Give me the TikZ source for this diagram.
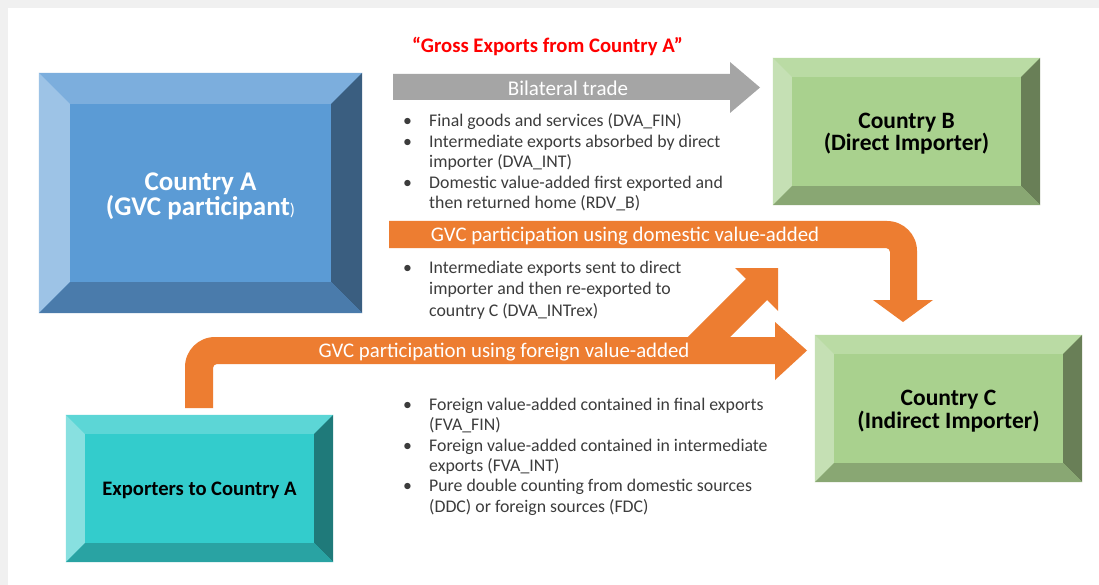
\documentclass[tikz,border=0pt]{standalone}
\usepackage{fontspec}
\setmainfont{Carlito}
\usetikzlibrary{calc}

\definecolor{pagegray}{HTML}{F0F0F0}
\definecolor{bodytext}{HTML}{3C3C3C}
\definecolor{arrowgray}{HTML}{A5A5A5}
\definecolor{arroworange}{HTML}{ED7D31}
\definecolor{titlered}{HTML}{FF0000}
% blue box (Country A)
\definecolor{aface}{HTML}{5B9BD5}
\definecolor{atop}{HTML}{7CAEDD}
\definecolor{aleft}{HTML}{9DC3E6}
\definecolor{aright}{HTML}{3A5E80}
\definecolor{abottom}{HTML}{4A7BAB}
% green boxes (Countries B and C)
\definecolor{gface}{HTML}{A9D18E}
\definecolor{gtop}{HTML}{BADBA4}
\definecolor{gleft}{HTML}{C5E0B4}
\definecolor{gright}{HTML}{697F57}
\definecolor{gbottom}{HTML}{89A773}
% teal box (exporters)
\definecolor{tface}{HTML}{33CCCC}
\definecolor{ttop}{HTML}{5CD6D6}
\definecolor{tleft}{HTML}{88E0E0}
\definecolor{tright}{HTML}{1F7A7A}
\definecolor{tbottom}{HTML}{29A3A3}

% four bevel faces around a rectangular node: name, width, top, left, right, bottom
\newcommand\bevelframe[6]{%
  \fill[#3] (#1.north west) -- (#1.north east) -- ($(#1.north east)+(-#2,#2)$) -- ($(#1.north west)+(#2,#2)$) -- cycle;
  \fill[#4] (#1.north west) -- ($(#1.north west)+(#2,#2)$) -- ($(#1.south west)+(#2,-#2)$) -- (#1.south west) -- cycle;
  \fill[#5] (#1.north east) -- (#1.south east) -- ($(#1.south east)+(-#2,-#2)$) -- ($(#1.north east)+(-#2,#2)$) -- cycle;
  \fill[#6] (#1.south west) -- (#1.south east) -- ($(#1.south east)+(-#2,-#2)$) -- ($(#1.south west)+(#2,-#2)$) -- cycle;
}

\tikzset{
  bevelbox/.style={rectangle, inner sep=0pt, align=center, font=\bfseries},
  boxlabel/.style={inner sep=0pt, align=center},
  bandlabel/.style={text=white, inner sep=0pt, font=\fontsize{20.8}{20.8}\selectfont},
  % lists are placed by the baseline of their last line
  bullets/.style={anchor=base west, inner sep=0pt, align=left, text=bodytext,
                  font=\fontsize{17.8}{20.5}\selectfont},
}
\newcommand\bul{\makebox[27pt][l]{\hspace*{1pt}•}}
\newcommand\cont{\hspace*{27pt}}

\begin{document}
\begin{tikzpicture}[x=1pt,y=-1pt]
  % page
  \fill[pagegray] (0,0) rectangle (1099,585);
  \fill[white] (8,8) rectangle (1099,585);
  \useasboundingbox (0,0) rectangle (1099,585);

  % boxes
  \node[bevelbox, fill=aface, minimum width=323pt, minimum height=240pt] (A) at (200.5,193) {};
  \bevelframe{A}{31}{atop}{aleft}{aright}{abottom}
  \node[boxlabel, text=white, font=\bfseries\fontsize{27}{25}\selectfont] (Alab) at ($(A.center)+(0,3)$)
        {Country A\\(GVC participant{\mdseries\fontsize{17}{17}\selectfont)}};

  \node[bevelbox, fill=gface, minimum width=267pt, minimum height=147pt] (B) at (906.5,131.5) {};
  \bevelframe{B}{19}{gtop}{gleft}{gright}{gbottom}
  \node[boxlabel, text=black, font=\bfseries\fontsize{23.5}{22.5}\selectfont] (Blab) at ($(B.center)+(0,2)$)
        {Country B\\(Direct Importer)};

  \node[bevelbox, fill=gface, minimum width=267pt, minimum height=147pt] (C) at (948.5,408.5) {};
  \bevelframe{C}{19}{gtop}{gleft}{gright}{gbottom}
  \node[boxlabel, text=black, font=\bfseries\fontsize{23.5}{23}\selectfont] (Clab) at ($(C.center)+(0,3)$)
        {Country C\\(Indirect Importer)};

  \node[bevelbox, fill=tface, minimum width=267pt, minimum height=147pt] (E) at (199.5,488.5) {};
  \bevelframe{E}{19}{ttop}{tleft}{tright}{tbottom}
  \node[boxlabel, text=black, font=\bfseries\fontsize{20.6}{20}\selectfont] (Elab) at ($(E.center)+(0,2)$)
        {Exporters to Country A};

  % heading over the bilateral flow
  \node[text=titlered, inner sep=0pt, font=\bfseries\fontsize{20.7}{20.7}\selectfont] (head) at (547.5,46)
        {“Gross Exports from Country A”};

  % bilateral trade arrow (A to B)
  \fill[arrowgray] (393,74) -- (730,74) -- (730,62) -- (760,87.5) -- (730,113) -- (730,100) -- (393,100) -- cycle;
  \node[text=white, inner sep=0pt, font=\fontsize{21}{21}\selectfont] (bil) at (568,88) {Bilateral trade};

  % domestic value-added route (A around to C)
  \fill[arroworange] (389,221) -- (887,221) .. controls (903.6,221) and (917,234.4) .. (917,251)
     -- (917,300) -- (933,300) -- (903,322) -- (873,300) -- (890,300) -- (890,252)
     .. controls (890,249.8) and (888.2,248) .. (886,248) -- (389,248) -- cycle;
  \node[bandlabel] (dom) at (625,236) {GVC participation using domestic value-added};

  % foreign value-added route (exporters to C)
  \fill[arroworange] (185,408) -- (185,367) .. controls (185,350.4) and (198.4,337) .. (215,337)
     -- (775,337) -- (775,322) -- (807,350.5) -- (775,380) -- (775,364) -- (217,364)
     .. controls (214.8,364) and (213,365.8) .. (213,368) -- (213,408) -- cycle;
  % branch towards B (re-exports)
  \fill[arroworange] (679.8,345) -- (745.9,278.9) -- (735,268) -- (778,268) -- (778,311)
     -- (767.1,300.1) -- (722.2,345) -- cycle;
  \node[bandlabel] (for) at (504,352.5) {GVC participation using foreign value-added};

  % bullet lists
  \node[bullets] (l1) at (402,209) {%
    \bul Final goods and services (DVA\_FIN)\\
    \bul Intermediate exports absorbed by direct\\
    \cont importer (DVA\_INT)\\
    \bul Domestic value-added first exported and\\
    \cont then returned home (RDV\_B)};
  \node[bullets, font=\fontsize{17.8}{21.5}\selectfont] (l2) at (402,316) {%
    \bul Intermediate exports sent to direct\\
    \cont importer and then re-exported to\\
    \cont country C (DVA\_INTrex)};
  \node[bullets, font=\fontsize{17.8}{20.3}\selectfont] (l3) at (402,512) {%
    \bul Foreign value-added contained in final exports\\
    \cont (FVA\_FIN)\\
    \bul Foreign value-added contained in intermediate\\
    \cont exports (FVA\_INT)\\
    \bul Pure double counting from domestic sources\\
    \cont (DDC) or foreign sources (FDC)};
\end{tikzpicture}
\end{document}
